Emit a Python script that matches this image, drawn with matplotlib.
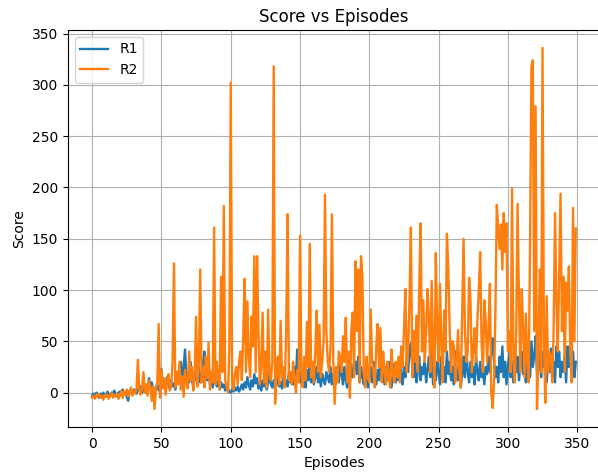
import numpy as np
import matplotlib
matplotlib.use("Agg")
import matplotlib.pyplot as plt

# scores per episode
r1 = [
    -3, -1, -4, 0, -2, -5, -1, -3, 0, -2,
    -4, 1, -2, -3, 0, -1, 2, -3, -1, 0,
    1, -2, 3, -1, 0, -4, -8, 2, 0, -2,
    3, 1, -1, 4, 2, 6, 0, 3, 8, 5,
    2, 14, 6, 10, 3, 0, 5, 8, 2, 4,
    23, 6, 10, 2, 15, 8, 4, 12, 6, 9,
    3, 15, 20, 10, 30, 8, 25, 42, 15, 20,
    10, 30, 12, 5, 20, 15, 8, 25, 10, 18,
    30, 40, 20, 12, 25, 8, 15, 5, 18, 10,
    6, 12, 3, 10, 5, 8, 2, 6, 4, 1,
    0, 3, 1, 5, 2, 6, 1, 4, 8, 3,
    10, 5, 15, 8, 3, 12, 6, 18, 9, 14,
    4, 8, 2, 12, 6, 15, 3, 10, 20, 8,
    5, 12, 3, 8, 15, 6, 10, 4, 18, 9,
    12, 6, 20, 10, 15, 8, 25, 12, 42, 18,
    10, 20, 8, 15, 5, 22, 12, 30, 10, 18,
    8, 15, 25, 10, 20, 6, 18, 12, 8, 20,
    15, 10, 25, 8, 18, 5, 12, 20, 10, 30,
    18, 8, 25, 12, 5, 20, 10, 28, 15, 22,
    30, 18, 35, 10, 25, 15, 8, 20, 12, 5,
    15, 25, 10, 30, 18, 8, 22, 12, 35, 15,
    20, 8, 25, 12, 30, 18, 5, 15, 28, 10,
    20, 12, 30, 18, 8, 25, 15, 35, 20, 40,
    48, 25, 15, 30, 10, 20, 35, 12, 25, 18,
    30, 10, 22, 35, 15, 40, 8, 25, 12, 30,
    20, 8, 35, 15, 25, 10, 40, 18, 30, 12,
    25, 8, 40, 20, 12, 30, 5, 18, 35, 15,
    45, 20, 10, 30, 15, 25, 8, 35, 20, 12,
    30, 15, 22, 8, 25, 18, 35, 20, 40, 53,
    30, 15, 25, 10, 35, 20, 45, 15, 30, 8,
    25, 40, 15, 30, 10, 45, 20, 35, 12, 28,
    40, 18, 25, 10, 45, 30, 15, 50, 25, 35,
    55, 20, 65, 30, 15, 40, 25, 45, 10, 35,
    20, 43, 15, 30, 10, 45, 25, 40, 15, 30,
    20, 35, 10, 45, 25, 50, 20, 40, 15, 30,
]

r2 = [
    -5, -3, -6, -2, -4, -1, -5, -3, -7, -2,
    -4, -2, -6, -3, 0, -5, -2, -4, -1, -6,
    -3, 2, -5, 1, -2, 3, -4, 0, 5, -3,
    2, -1, 4, 32, 3, -2, 5, 20, 0, 8,
    -3, 12, 4, -8, 6, -16, 3, 10, 67, -5,
    22, 4, 14, -2, 10, 18, 2, 6, 30, 126,
    5, 20, 8, 30, 3, 16, -4, 22, 10, 4,
    40, 12, 25, 2, 18, 74, 6, 28, 120, 10,
    24, 5, 35, 14, 49, 3, 20, 10, 161, 8,
    30, 15, 4, 113, 20, 182, 12, 6, 0, 40,
    302, 10, 3, 18, 25, 8, 30, 40, 12, 55,
    111, 20, 89, 35, 15, 74, 45, 133, 20, 133,
    60, 8, 25, 78, 10, 40, 5, 81, 18, 12,
    30, 318, -11, 20, 35, 8, 70, 15, 25, 5,
    60, 174, 12, 20, 8, 30, 15, 0, 22, 10,
    153, 20, 5, 35, 12, 69, 25, 145, 15, 30,
    10, 40, 80, 20, 66, 15, 30, 50, 193, 60,
    30, 20, 45, 174, 30, -11, 25, 10, 40, 35,
    20, 55, 30, 73, 10, 40, -5, 60, 78, 15,
    128, 60, 120, 10, 133, 113, 20, 5, 35, 15,
    10, 81, 30, 20, 5, 45, 67, 25, 63, 10,
    40, 20, 8, 30, 15, 5, 42, 20, 10, 30,
    15, 35, 10, 45, 25, 60, 101, 20, 40, 90,
    161, 15, 60, 30, 75, 20, 100, 165, 40, 90,
    30, 60, 101, 74, 20, 109, 40, 5, 136, 60,
    30, 106, 45, 10, 80, 40, 155, 120, 60, 20,
    50, 45, 10, 30, 61, 20, 5, 80, 150, 60,
    30, 40, 112, 90, 20, 40, 63, 30, 70, 100,
    137, 50, 20, 90, 70, 30, 60, 106, 0, -15,
    10, 80, 183, 160, 140, 164, 120, 175, 137, 165,
    40, 60, 20, 199, 30, 10, 60, 184, 90, 20,
    101, 63, 15, 77, 30, 10, 150, 318, 324, 60,
    279, -16, 40, 120, 20, 336, 50, -10, 94, 20,
    40, 36, 10, 60, 175, 90, 40, 120, 194, 60,
    113, 20, 107, 80, 123, 40, 10, 180, 50, 160,
]

episodes = np.arange(len(r1))

fig = plt.figure(figsize=(5.98, 4.74), dpi=100)
ax = fig.add_axes([0.1137, 0.099, 0.8896, 0.838])
ax.plot(episodes, r1, label="R1", linewidth=1.7)
ax.plot(episodes, r2, label="R2", linewidth=1.7)
ax.set_title("Score vs Episodes")
ax.set_xlabel("Episodes")
ax.set_ylabel("Score")
ax.grid(True)
ax.legend(loc="upper left")
fig.savefig("out.png", dpi=100)
